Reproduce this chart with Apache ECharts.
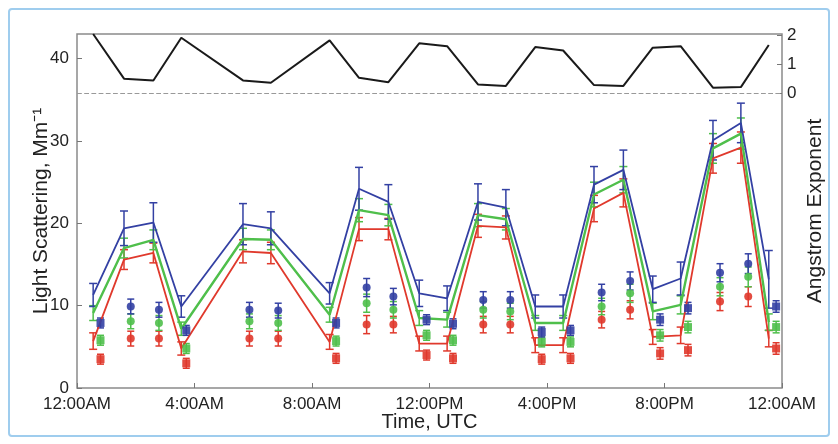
<!DOCTYPE html>
<html lang="en" style="height: 100%">

<head>
  <meta charset="UTF-8" />
  <title>Light Scattering</title>
  <script src="https://cdn.jsdelivr.net/npm/echarts@6/dist/echarts.min.js"></script>
</head>

<body style="height: 100%; margin: 0; background: #fff">
  <div id="main" style="width: 838px; height: 444px"></div>
  <script type="text/javascript">
    // hours since 00:00 UTC for the line / Angstrom samples
    var times = [0.55, 1.6, 2.6, 3.55, 5.65, 6.6, 8.6, 9.6, 10.6, 11.65, 12.6, 13.65, 14.6, 15.6, 16.55, 17.6, 18.6, 19.6, 20.55, 21.65, 22.6, 23.55];
    var blueLine = [11.3, 19.4, 20.1, 9.9, 19.9, 19.4, 11.5, 24.2, 22.6, 11.5, 10.9, 22.6, 21.9, 9.9, 9.9, 24.7, 26.5, 12.0, 13.3, 30.1, 32.2, 13.2];
    var greenLine = [9.1, 17.0, 18.0, 7.2, 18.1, 18.0, 8.9, 21.6, 21.0, 8.5, 8.3, 21.0, 20.5, 7.9, 7.9, 23.5, 25.3, 9.3, 10.1, 29.1, 30.9, 8.0];
    var redLine = [5.7, 15.6, 16.4, 4.8, 16.6, 16.4, 5.6, 19.3, 19.3, 5.4, 5.4, 19.7, 19.5, 5.2, 5.2, 21.8, 23.7, 6.2, 6.4, 27.9, 29.2, 6.0];
    var blueErr = [1.4, 2.1, 2.4, 1.3, 2.5, 2.0, 1.3, 2.6, 2.1, 1.6, 1.5, 2.2, 2.2, 1.4, 1.4, 2.2, 2.4, 1.6, 2.0, 2.4, 2.4, 3.5];
    var greenErr = [0.9, 1.2, 1.2, 0.8, 1.3, 1.2, 0.9, 1.4, 1.3, 0.9, 0.9, 1.4, 1.3, 0.9, 0.9, 1.5, 1.6, 1.0, 1.1, 1.8, 1.9, 1.0];
    var redErr = [1.0, 1.2, 1.2, 0.8, 1.4, 1.3, 0.9, 1.4, 1.3, 0.9, 0.9, 1.4, 1.4, 0.9, 0.9, 1.6, 1.7, 0.9, 1.0, 1.8, 1.9, 1.0];
    var angstrom = [2.05, 0.51, 0.45, 1.92, 0.45, 0.37, 1.83, 0.54, 0.39, 1.73, 1.63, 0.31, 0.26, 1.6, 1.48, 0.29, 0.26, 1.58, 1.63, 0.2, 0.22, 1.67];

    // separate circle markers (daytime) and square markers (night)
    var circleTimes = [1.83, 2.79, 5.87, 6.85, 9.86, 10.77, 13.83, 14.75, 17.86, 18.83, 21.89, 22.85];
    var blueCircle = [9.9, 9.5, 9.5, 9.4, 12.2, 11.1, 10.7, 10.7, 11.6, 13.0, 14.0, 15.1];
    var greenCircle = [8.1, 7.9, 8.1, 7.9, 10.3, 9.5, 9.5, 9.3, 9.9, 11.5, 12.3, 13.5];
    var redCircle = [6.0, 6.0, 6.0, 6.0, 7.7, 7.7, 7.7, 7.7, 8.3, 9.5, 10.5, 11.1];
    var circleErr = [0.9, 0.9, 0.9, 0.9, 1.1, 1.0, 1.0, 1.0, 1.0, 1.1, 1.1, 1.2];

    var squareTimes = [0.8, 3.72, 8.82, 11.9, 12.8, 15.82, 16.8, 19.85, 20.8, 23.8];
    var blueSquare = [7.9, 7.0, 7.9, 8.3, 7.8, 6.8, 7.0, 8.3, 9.7, 9.9];
    var greenSquare = [5.8, 4.8, 5.7, 6.4, 5.8, 5.6, 5.6, 6.4, 7.4, 7.4];
    var redSquare = [3.5, 3.0, 3.6, 4.0, 3.6, 3.5, 3.6, 4.2, 4.6, 4.8];
    var squareErr = [0.6, 0.6, 0.6, 0.6, 0.6, 0.6, 0.6, 0.7, 0.7, 0.7];

    var xTickLabels = ['12:00AM', '4:00AM', '8:00AM', '12:00PM', '4:00PM', '8:00PM', '12:00AM'];
    var leftTicks = [0, 10, 20, 30, 40];
    var rightTicks = [0, 1, 2];

    var BLUE = '#3340a3', GREEN = '#4fbf4b', RED = '#e0392c';

    function pairs(xs, ys) {
      return xs.map(function (x, i) { return [x, ys[i]]; });
    }

    function errBars(xs, ys, es, color, cap) {
      return {
        type: 'custom',
        silent: true,
        z: 2,
        data: xs.map(function (x, i) { return [x, ys[i] - es[i], ys[i] + es[i]]; }),
        encode: { x: 0, y: [1, 2] },
        renderItem: function (params, api) {
          var lo = api.coord([api.value(0), api.value(1)]);
          var hi = api.coord([api.value(0), api.value(2)]);
          var st = { stroke: color, lineWidth: 1.5 };
          return {
            type: 'group',
            children: [
              { type: 'line', shape: { x1: lo[0], y1: lo[1], x2: hi[0], y2: hi[1] }, style: st },
              { type: 'line', shape: { x1: hi[0] - cap, y1: hi[1], x2: hi[0] + cap, y2: hi[1] }, style: st },
              { type: 'line', shape: { x1: lo[0] - cap, y1: lo[1], x2: lo[0] + cap, y2: lo[1] }, style: st }
            ]
          };
        }
      };
    }

    function line(ys, color, w) {
      return {
        type: 'line', data: pairs(times, ys), showSymbol: false, silent: true, z: 3,
        lineStyle: { color: color, width: w }, itemStyle: { color: color }
      };
    }

    function dots(xs, ys, color, shape) {
      return {
        type: 'scatter', data: pairs(xs, ys), symbol: shape, symbolSize: 8, silent: true, z: 4,
        itemStyle: { color: color, opacity: 0.9 }
      };
    }

    var myChart = echarts.init(document.getElementById('main'));
    var font = 'Liberation Sans, Arial, sans-serif';

    var option = {
      animation: false,
      backgroundColor: '#fff',
      graphic: [{
        type: 'rect', silent: true,
        shape: { x: 9, y: 9, width: 820, height: 427, r: 3 },
        style: { fill: 'none', stroke: '#9fcdee', lineWidth: 2 }
      }],
      grid: { left: 77, right: 56, top: 34, bottom: 56, show: true, borderColor: '#8a8a8a', borderWidth: 1.5 },
      xAxis: {
        type: 'value', min: 0, max: 24, interval: 4,
        name: 'Time, UTC', nameLocation: 'middle', nameGap: 24, nameMoveOverlap: false,
        nameTextStyle: { fontFamily: font, fontSize: 20, color: '#222', verticalAlign: 'top' },
        axisLine: { show: false },
        axisTick: { inside: true, length: 5, lineStyle: { color: '#777' } },
        splitLine: { show: false },
        axisLabel: {
          fontFamily: font, fontSize: 17, color: '#222', margin: 8,
          formatter: function (v) { return xTickLabels[Math.round(v / 4)]; }
        }
      },
      yAxis: [{
        type: 'value', min: 0, max: 43,
        name: 'Light Scattering, Mm⁻¹', nameLocation: 'middle', nameGap: 25, nameRotate: 90, nameMoveOverlap: false,
        nameTextStyle: { fontFamily: font, fontSize: 21, color: '#222' },
        axisLine: { show: false },
        axisTick: { inside: true, length: 5, customValues: leftTicks, lineStyle: { color: '#777' } },
        splitLine: { show: false },
        axisLabel: { customValues: leftTicks, fontFamily: font, fontSize: 17, color: '#222', margin: 8 }
      }, {
        type: 'value', min: -10.15, max: 2.05, position: 'right',
        name: 'Angstrom Exponent', nameLocation: 'middle', nameGap: 23, nameRotate: 90, nameMoveOverlap: false,
        nameTextStyle: { fontFamily: font, fontSize: 21, color: '#222' },
        axisLine: { show: false },
        axisTick: { inside: true, length: 5, customValues: rightTicks, lineStyle: { color: '#777' } },
        splitLine: { show: false },
        axisLabel: { customValues: rightTicks, fontFamily: font, fontSize: 17, color: '#222', margin: 5 }
      }],
      series: [
        errBars(times, redLine, redErr, RED, 4),
        errBars(times, greenLine, greenErr, GREEN, 4),
        errBars(times, blueLine, blueErr, BLUE, 4),
        line(redLine, RED, 1.8),
        line(greenLine, GREEN, 2.4),
        line(blueLine, BLUE, 1.8),
        errBars(circleTimes, redCircle, circleErr, RED, 3.5),
        errBars(circleTimes, greenCircle, circleErr, GREEN, 3.5),
        errBars(circleTimes, blueCircle, circleErr, BLUE, 3.5),
        dots(circleTimes, redCircle, RED, 'circle'),
        dots(circleTimes, greenCircle, GREEN, 'circle'),
        dots(circleTimes, blueCircle, BLUE, 'circle'),
        errBars(squareTimes, redSquare, squareErr, RED, 3.5),
        errBars(squareTimes, greenSquare, squareErr, GREEN, 3.5),
        errBars(squareTimes, blueSquare, squareErr, BLUE, 3.5),
        dots(squareTimes, redSquare, RED, 'rect'),
        dots(squareTimes, greenSquare, GREEN, 'rect'),
        dots(squareTimes, blueSquare, BLUE, 'rect'),
        {
          type: 'line', yAxisIndex: 1, data: pairs(times, angstrom), showSymbol: false, silent: true, z: 3,
          lineStyle: { color: '#1a1a1a', width: 2 },
          markLine: {
            silent: true, symbol: 'none', label: { show: false },
            lineStyle: { type: 'dashed', color: '#999', width: 1.2 },
            data: [{ yAxis: 0 }]
          }
        }
      ]
    };

    myChart.setOption(option);
    window.addEventListener('resize', myChart.resize);
  </script>
</body>

</html>
